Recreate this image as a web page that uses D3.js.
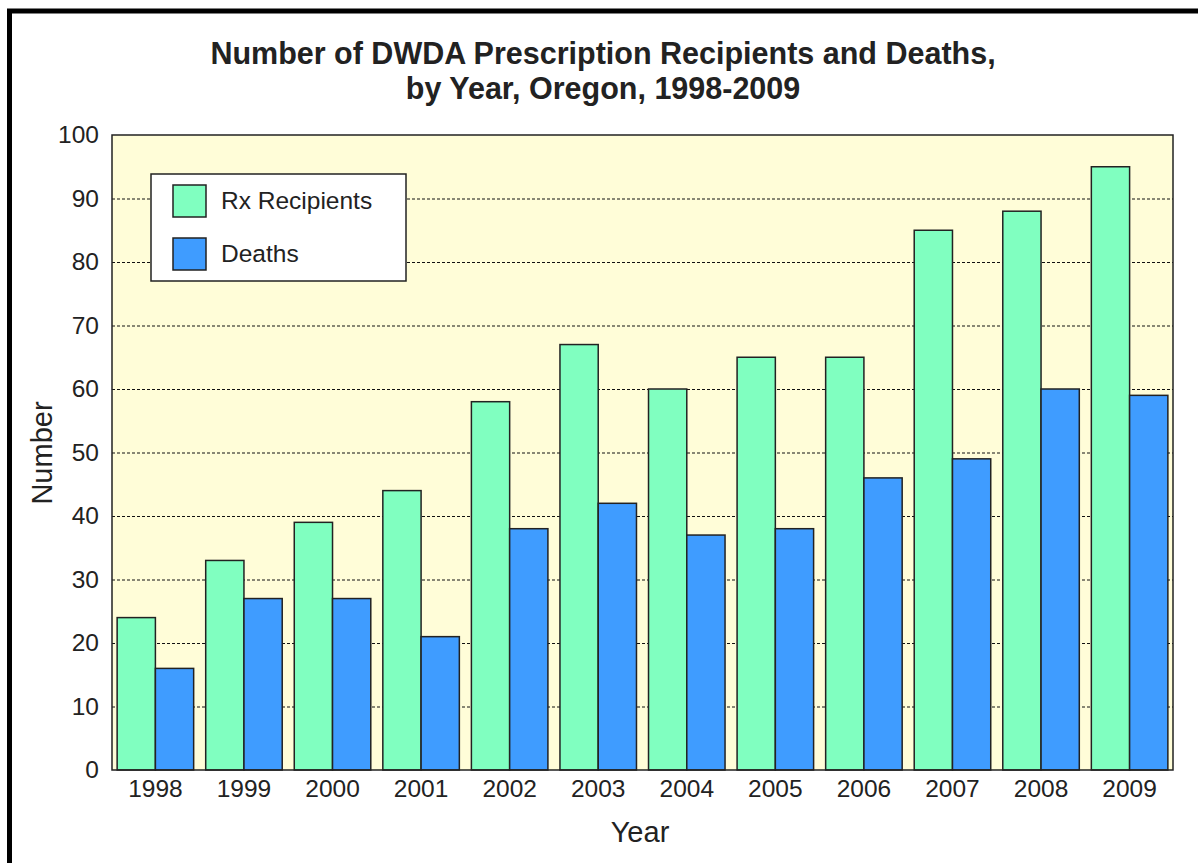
<!DOCTYPE html>
<html>
<head>
<meta charset="utf-8">
<script src="https://cdn.jsdelivr.net/npm/d3@7"></script>
<style>
  body { margin: 0; background: #fff; }
  text { font-family: Arial, "Liberation Sans", sans-serif; fill: #222; }
</style>
</head>
<body>
<div id="chart"></div>
<script>
const width = 1198;
const height = 863;
const margin = { top: 135, right: 25, bottom: 93, left: 112 };

const years = ['1998', '1999', '2000', '2001', '2002', '2003', '2004', '2005', '2006', '2007', '2008', '2009'];
const rxRecipients = [24, 33, 39, 44, 58, 67, 60, 65, 65, 85, 88, 95];
const deaths = [16, 27, 27, 21, 38, 42, 37, 38, 46, 49, 60, 59];
const seriesNames = ['Rx Recipients', 'Deaths'];
const seriesColors = ['#80ffc0', '#3f9cff'];
const yTicks = [0, 10, 20, 30, 40, 50, 60, 70, 80, 90, 100];

const svg = d3.select('#chart')
  .append('svg')
  .attr('width', width)
  .attr('height', height);

// outer frame (left and top only, like the source)
svg.append('rect')
  .attr('x', 9.5)
  .attr('y', 11)
  .attr('width', width + 20)
  .attr('height', height + 20)
  .attr('fill', 'none')
  .attr('stroke', '#000')
  .attr('stroke-width', 5);

const x = d3.scaleBand()
  .domain(years)
  .range([margin.left, width - margin.right])
  .paddingInner(0.136)
  .paddingOuter(0.058);

const xSub = d3.scaleBand()
  .domain(seriesNames)
  .range([0, x.bandwidth()]);

const y = d3.scaleLinear()
  .domain([0, 100])
  .range([height - margin.bottom, margin.top]);

// plot background
svg.append('rect')
  .attr('x', margin.left)
  .attr('y', y(100))
  .attr('width', width - margin.right - margin.left)
  .attr('height', y(0) - y(100))
  .attr('fill', '#fffdd8');

// dashed gridlines
svg.append('g')
  .selectAll('line')
  .data(yTicks.filter(d => d > 0 && d < 100))
  .enter()
  .append('line')
  .attr('x1', margin.left)
  .attr('x2', width - margin.right)
  .attr('y1', d => y(d) + 0.5)
  .attr('y2', d => y(d) + 0.5)
  .attr('stroke', '#111')
  .attr('stroke-width', 1)
  .attr('stroke-dasharray', '3,2');

// bars
const rows = years.map((yr, i) => ({ year: yr, values: [rxRecipients[i], deaths[i]] }));

svg.append('g')
  .selectAll('g')
  .data(rows)
  .enter()
  .append('g')
  .attr('transform', d => `translate(${x(d.year)},0)`)
  .selectAll('rect')
  .data(d => d.values.map((v, k) => ({ name: seriesNames[k], value: v, k })))
  .enter()
  .append('rect')
  .attr('x', d => xSub(d.name))
  .attr('y', d => y(d.value))
  .attr('width', xSub.bandwidth())
  .attr('height', d => y(0) - y(d.value))
  .attr('fill', d => seriesColors[d.k])
  .attr('stroke', '#222')
  .attr('stroke-width', 1.5);

// plot border
svg.append('rect')
  .attr('x', margin.left)
  .attr('y', y(100))
  .attr('width', width - margin.right - margin.left)
  .attr('height', y(0) - y(100))
  .attr('fill', 'none')
  .attr('stroke', '#222')
  .attr('stroke-width', 1.5);

// y axis labels
const yAxis = d3.axisLeft(y).tickValues(yTicks).tickSize(0).tickPadding(13);
svg.append('g')
  .attr('transform', `translate(${margin.left},0)`)
  .call(yAxis)
  .call(g => g.select('.domain').remove())
  .selectAll('text')
  .attr('font-size', 24.5)
  .attr('font-family', 'Arial, "Liberation Sans", sans-serif')
  .attr('fill', '#222');

// x axis labels
const xAxis = d3.axisBottom(x).tickSize(0).tickPadding(10);
svg.append('g')
  .attr('transform', `translate(0,${y(0)})`)
  .call(xAxis)
  .call(g => g.select('.domain').remove())
  .selectAll('text')
  .attr('font-size', 24.5)
  .attr('font-family', 'Arial, "Liberation Sans", sans-serif')
  .attr('fill', '#222');

// title
svg.append('text')
  .attr('x', 603)
  .attr('y', 64)
  .attr('text-anchor', 'middle')
  .attr('font-size', 30.5)
  .attr('font-weight', 'bold')
  .text('Number of DWDA Prescription Recipients and Deaths,');

svg.append('text')
  .attr('x', 603)
  .attr('y', 99)
  .attr('text-anchor', 'middle')
  .attr('font-size', 30.5)
  .attr('font-weight', 'bold')
  .text('by Year, Oregon, 1998-2009');

// axis titles
svg.append('text')
  .attr('x', 640)
  .attr('y', 842)
  .attr('text-anchor', 'middle')
  .attr('font-size', 29)
  .text('Year');

svg.append('text')
  .attr('transform', 'translate(52,453) rotate(-90)')
  .attr('text-anchor', 'middle')
  .attr('font-size', 29)
  .text('Number');

// legend
const legend = svg.append('g').attr('transform', 'translate(151,174)');
legend.append('rect')
  .attr('width', 255)
  .attr('height', 107)
  .attr('fill', '#fff')
  .attr('stroke', '#222')
  .attr('stroke-width', 1.5);

const items = legend.selectAll('g')
  .data(seriesNames)
  .enter()
  .append('g')
  .attr('transform', (d, i) => `translate(22,${11 + i * 53})`);

items.append('rect')
  .attr('width', 33)
  .attr('height', 32)
  .attr('fill', (d, i) => seriesColors[i])
  .attr('stroke', '#222')
  .attr('stroke-width', 1.5);

items.append('text')
  .attr('x', 48)
  .attr('y', 24)
  .attr('font-size', 24.5)
  .text(d => d);
</script>
</body>
</html>
